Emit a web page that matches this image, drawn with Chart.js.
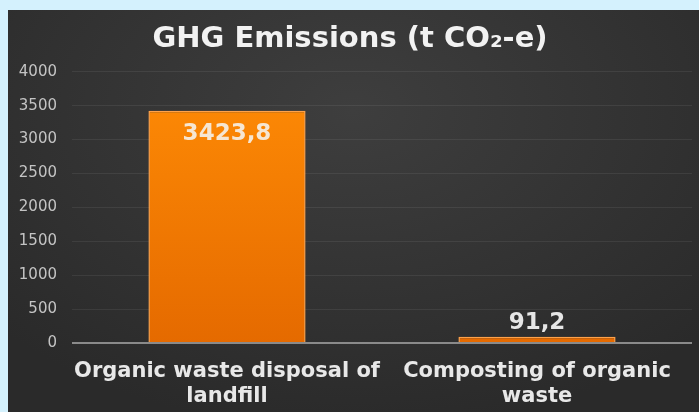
<!DOCTYPE html>
<html lang="en">
<head>
    <meta charset="UTF-8">
    <title>GHG Emissions</title>
    <script src="https://cdn.jsdelivr.net/npm/chart.js"></script>
    <style>
        body { margin: 0; background: #d4f1fd; width: 699px; height: 412px; overflow: hidden; position: relative; }
        #panel {
            position: absolute; left: 8px; top: 10px; width: 691px; height: 402px;
            background: radial-gradient(ellipse 70% 80% at 50% 25%, #3e3e3e 0%, #333333 55%, #2a2a2a 100%);
        }
        canvas { display: block; }
    </style>
</head>
<body>
    <div id="panel"><canvas id="chart" width="691" height="402"></canvas></div>
    <script>
        // --- Data ---
        const categories = [
            ['Organic waste disposal of', 'landfill'],
            ['Composting of organic', 'waste']
        ];
        const emissions = [3423.8, 91.2];
        const yTicks = [0, 500, 1000, 1500, 2000, 2500, 3000, 3500, 4000];

        const FONT = "'DejaVu Sans', Verdana, sans-serif";

        function barFill(context) {
            const area = context.chart.chartArea;
            if (!area) return '#ff8a00';
            const g = context.chart.ctx.createLinearGradient(0, area.top, 0, area.bottom);
            g.addColorStop(0, '#ff8c05');
            g.addColorStop(1, '#e56a00');
            return g;
        }

        // value labels: inside the tall bar, above the short one
        const valueLabels = {
            id: 'valueLabels',
            afterDatasetsDraw(chart) {
                const ctx = chart.ctx;
                const meta = chart.getDatasetMeta(0);
                ctx.save();
                ctx.font = 'bold 23px ' + FONT;
                ctx.textAlign = 'center';
                ctx.textBaseline = 'middle';
                meta.data.forEach((bar, i) => {
                    const v = emissions[i];
                    const txt = String(v).replace('.', ',');
                    const inside = (bar.base - bar.y) > 60;
                    ctx.fillStyle = inside ? '#f6e6d2' : '#e6e6e6';
                    const y = inside ? bar.y + 23 : bar.y - 14;
                    ctx.fillText(txt, bar.x, y);
                });
                ctx.restore();
            }
        };

        new Chart(document.getElementById('chart'), {
            type: 'bar',
            data: {
                labels: categories,
                datasets: [{
                    data: emissions,
                    backgroundColor: barFill,
                    borderColor: '#ffa24a',
                    borderWidth: 1.5,
                    barPercentage: 0.507,
                    categoryPercentage: 1.0
                }]
            },
            options: {
                responsive: false,
                animation: false,
                layout: { padding: { left: 0, right: 7, top: 0, bottom: 0 } },
                plugins: {
                    legend: { display: false },
                    tooltip: { enabled: false },
                    title: {
                        display: true,
                        text: 'GHG Emissions (t CO₂-e)',
                        color: '#f2f2f2',
                        font: { family: FONT, size: 29, weight: 'bold', lineHeight: 1.2 },
                        padding: { top: 12, bottom: 15 }
                    }
                },
                scales: {
                    x: {
                        grid: { display: false },
                        border: { display: false },
                        ticks: {
                            color: '#e8e8e8',
                            font: { family: FONT, size: 21, weight: 'bold', lineHeight: 1.2 },
                            padding: 8,
                            maxRotation: 0,
                            autoSkip: false
                        },
                        afterFit(scale) { scale.height = 69; }
                    },
                    y: {
                        min: 0,
                        max: 4000,
                        afterBuildTicks(scale) { scale.ticks = yTicks.map(v => ({ value: v })); },
                        grid: {
                            drawTicks: false,
                            color: ctx => ctx.tick && ctx.tick.value === 0 ? '#8a8a8a' : 'rgba(255,255,255,0.07)',
                            lineWidth: ctx => ctx.tick && ctx.tick.value === 0 ? 2 : 1
                        },
                        border: { display: false },
                        ticks: {
                            color: '#c4c4c4',
                            font: { family: FONT, size: 15 },
                            padding: 15,
                            callback: v => String(v)
                        },
                        afterFit(scale) { scale.width = 64; }
                    }
                }
            },
            plugins: [valueLabels]
        });
    </script>
</body>
</html>
